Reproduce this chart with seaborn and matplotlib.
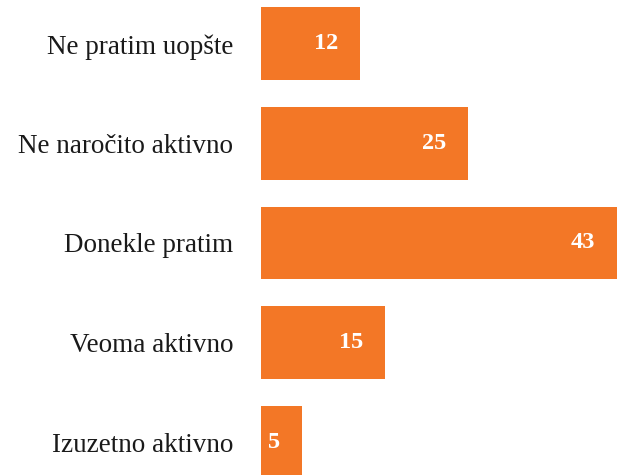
import matplotlib
matplotlib.use("Agg")
import matplotlib.pyplot as plt
import seaborn as sns
import pandas as pd

categories = ["Ne pratim uopšte", "Ne naročito aktivno", "Donekle pratim",
              "Veoma aktivno", "Izuzetno aktivno"]
values = [12, 25, 43, 15, 5]

sns.set_style("white")
plt.rcParams["font.family"] = ["Liberation Serif", "DejaVu Serif"]

df = pd.DataFrame({"category": categories, "value": values})

W, H = 618, 475
fig = plt.figure(figsize=(W / 100, H / 100), dpi=100)
ax = fig.add_axes([261 / W, 0, (W - 261) / W, 1])

sns.barplot(data=df, y="category", x="value", orient="h", color="#F37726",
            saturation=1, width=0.73, linewidth=0, ax=ax)

ax.set_xlim(0, 43.1)
ax.set_ylim(4.33, -0.44)
ax.set_xlabel("")
ax.set_ylabel("")
ax.set_xticks([])
ax.tick_params(axis="y", length=0, pad=20, labelsize=19.5, labelcolor="#1a1a1a")
for s in ax.spines.values():
    s.set_visible(False)

for i, v in enumerate(values):
    ax.annotate(str(v), xy=(v, i), xytext=(-16, 0), textcoords="offset points",
                ha="right", va="center", color="white", fontsize=17.5,
                fontweight="bold")

fig.savefig("out.png", dpi=100)
